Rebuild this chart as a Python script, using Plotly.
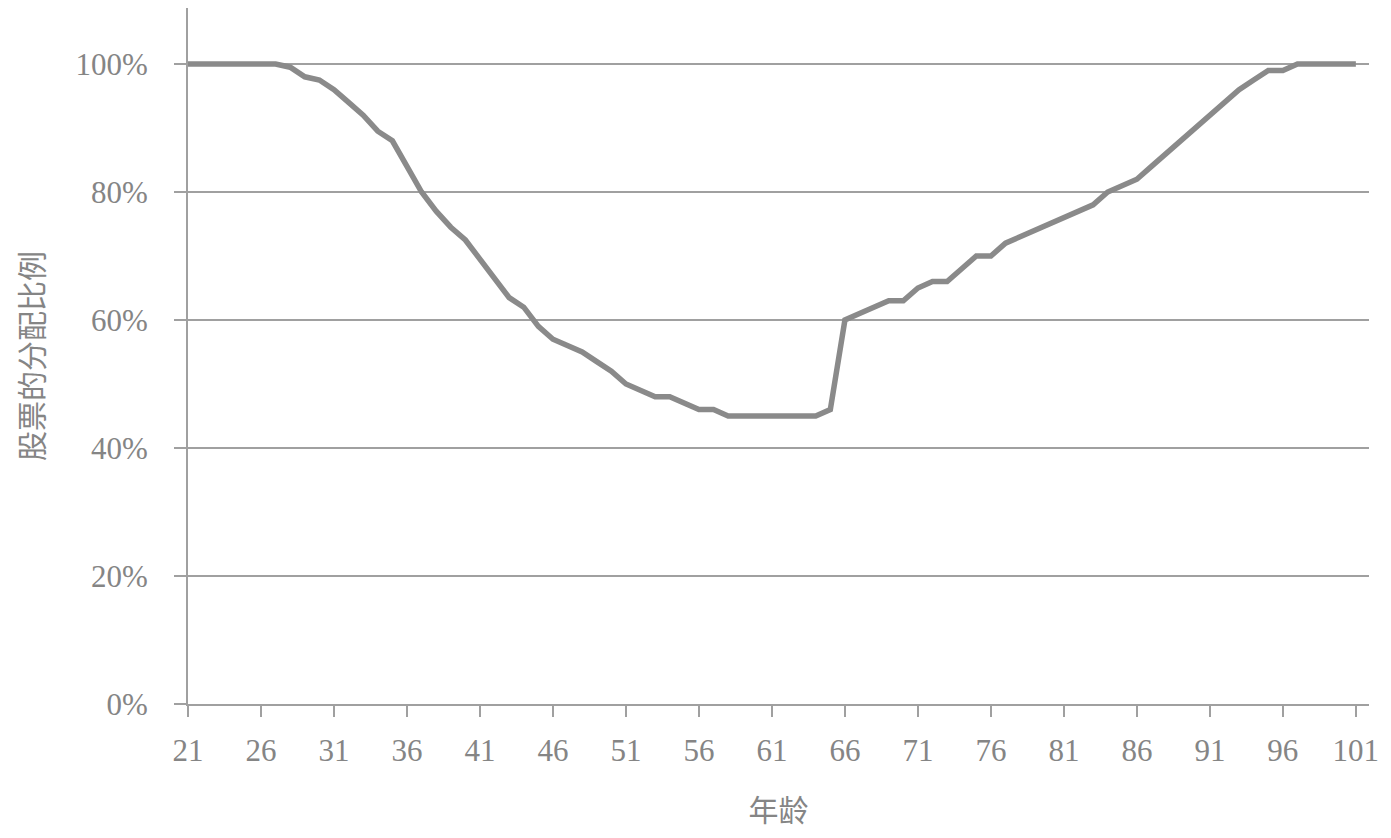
import plotly.graph_objects as go

ages = list(range(21, 102))
stock_share = [
    100, 100, 100, 100, 100, 100, 100,          # 21-27
    99.5, 98, 97.5, 96, 94, 92, 89.5, 88, 84,   # 28-36
    80, 77, 74.5, 72.5, 69.5, 66.5, 63.5, 62,   # 37-44
    59, 57, 56, 55, 53.5, 52, 50, 49, 48, 48,   # 45-54
    47, 46, 46, 45, 45, 45, 45, 45, 45, 45,     # 55-64
    46, 60, 61, 62, 63, 63, 65, 66, 66, 68,     # 65-74
    70, 70, 72, 73, 74, 75, 76, 77, 78, 80,     # 75-84
    81, 82, 84, 86, 88, 90, 92, 94, 96, 97.5,   # 85-94
    99, 99, 100, 100, 100, 100, 100,            # 95-101
]
x_ticks = list(range(21, 102, 5))
y_ticks = [0, 20, 40, 60, 80, 100]
y_tick_labels = [f"{v}%" for v in y_ticks]
x_title = "年龄"
y_title = "股票的分配比例"

grey_text = "#858585"
grid_col = "#a0a0a0"

fig = go.Figure()
fig.add_trace(go.Scatter(
    x=ages, y=stock_share, mode="lines",
    line=dict(color="#8a8a8a", width=5.5),
    showlegend=False, hoverinfo="skip",
))

fig.update_layout(
    width=1375, height=822,
    paper_bgcolor="white", plot_bgcolor="white",
    margin=dict(l=180, r=14, t=0, b=126),
    font=dict(family="Liberation Serif, Noto Sans CJK SC", size=31, color=grey_text),
    xaxis=dict(
        range=[21, 101.9], tickvals=x_ticks, ticktext=[str(v) for v in x_ticks],
        showgrid=False, zeroline=False,
        showline=True, linecolor=grid_col, linewidth=2,
        ticks="outside", ticklen=11, tickwidth=2, tickcolor=grid_col,
        ticklabelstandoff=7,
        tickfont=dict(family="Liberation Serif", size=31, color=grey_text),
        title=dict(text=x_title, standoff=37,
                   font=dict(family="Noto Sans CJK SC", size=30, color=grey_text)),
        automargin=False,
    ),
    yaxis=dict(
        range=[0, 108.75], tickvals=y_ticks, ticktext=y_tick_labels,
        showgrid=True, gridcolor=grid_col, gridwidth=2,
        zeroline=False,
        showline=True, linecolor=grid_col, linewidth=2,
        ticks="outside", ticklen=12, tickwidth=2, tickcolor=grid_col,
        ticklabelstandoff=20,
        tickfont=dict(family="Liberation Serif", size=31, color=grey_text),
        title=dict(text=y_title, standoff=25,
                   font=dict(family="Noto Sans CJK SC", size=30, color=grey_text)),
        automargin=False,
    ),
)

fig.write_html("out.html")
